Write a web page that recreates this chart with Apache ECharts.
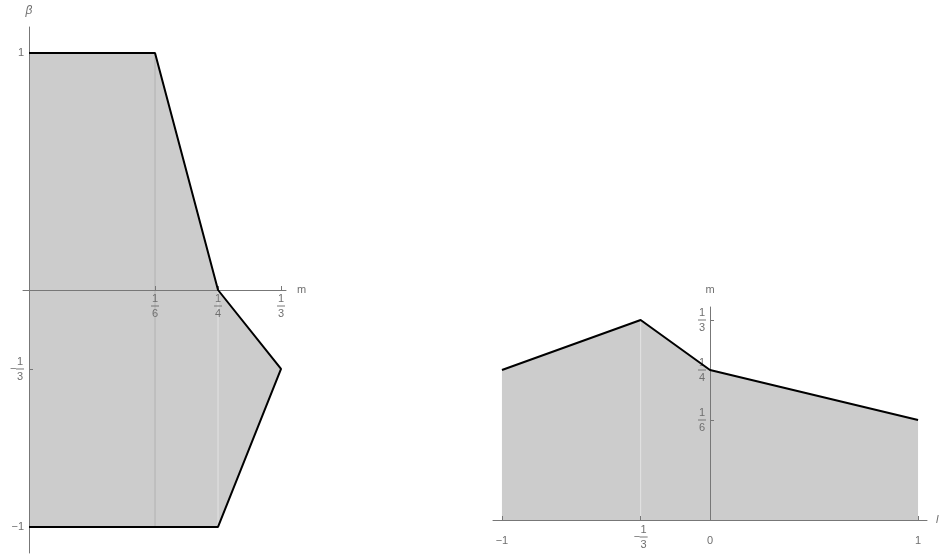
<!DOCTYPE html>
<html><head><meta charset="utf-8">
<script src="https://cdn.jsdelivr.net/npm/echarts@6/dist/echarts.min.js"></script>
<style>html,body{margin:0;padding:0;background:#fff}#c{width:940px;height:556px}</style>
</head><body><div id="c"></div>
<script>
// ---- data ----
const leftM    = [0, 1/6, 1/4, 1/3, 1/4, 0];
const leftBeta = [1, 1, 0, -1/3, -1, -1];
const leftMTicks = [1/6, 1/4, 1/3];
const leftMTickLabels = ['1/6', '1/4', '1/3'];
const leftBetaTicks = [1, -1/3, -1];
const leftBetaTickLabels = ['1', '-1/3', '-1'];
const leftDividerM = [1/6, 1/4];
const leftDividerFrom = [-1, -1];
const leftDividerTo = [1, 0];

const rightL = [-1, -1/3, 0, 1];
const rightM = [1/4, 1/3, 1/4, 1/6];
const rightLTicks = [-1, -1/3, 0, 1];
const rightLTickLabels = ['-1', '-1/3', '0', '1'];
const rightMTicks = [1/3, 1/4, 1/6];
const rightMTickLabels = ['1/3', '1/4', '1/6'];
const rightDividerL = [-1/3];
const rightDividerTo = [1/3];

// ---- layout ----
const W = 940, H = 556;
const G0 = {left: 23, right: 654, top: 27, bottom: 3};
const G1 = {left: 493, right: 13, top: 307, bottom: 36};
const X0 = {min: -0.00794, max: 0.3399}, Y0 = {min: -1.11, max: 1.11};
const X1 = {min: -1.043, max: 1.043},   Y1 = {min: 0, max: 0.355};
// offset (inward) so that each axis sits on the other axis' zero
function zeroOffsetX(g, ax) { const w = W - g.left - g.right; return -w * (0 - ax.min) / (ax.max - ax.min); }
function zeroOffsetY(g, ax) { const h = H - g.top - g.bottom; return -h * (0 - ax.min) / (ax.max - ax.min); }

// ---- helpers ----
const GRAY = '#6f6f6f';
const FONT = '"Liberation Sans", Arial, sans-serif';
function labelFor(vals, labels, simpleStyle) {
  return function (v) {
    let best = 0, d = Infinity;
    vals.forEach((x, i) => { if (Math.abs(x - v) < d) { d = Math.abs(x - v); best = i; } });
    const lbl = labels[best];
    if (lbl.indexOf('/') < 0) return '{' + simpleStyle + '|' + lbl.replace('-', '\u2212') + '}';
    const neg = lbl[0] === '-';
    const parts = lbl.replace('-', '').split('/');
    if (neg) return '{p| }{n|' + parts[0] + '}\n{m|\u2212}{b| }\n{p| }{n|' + parts[1] + '}';
    return '{n|' + parts[0] + '}\n{b| }\n{n|' + parts[1] + '}';
  };
}
const rich = {
  n: {fontSize: 11, lineHeight: 11, width: 8, align: 'center', color: GRAY, fontFamily: FONT},
  b: {width: 8, height: 1, lineHeight: 4, backgroundColor: '#777'},
  m: {fontSize: 11, lineHeight: 4, width: 6, align: 'left', color: GRAY, fontFamily: FONT},
  p: {fontSize: 11, lineHeight: 11, width: 6, color: GRAY},
  s: {fontSize: 11, lineHeight: 33, color: GRAY, fontFamily: FONT},
  t: {fontSize: 11, color: GRAY, fontFamily: FONT}
};
function pairs(xs, ys) { return xs.map((x, i) => [x, ys[i]]); }

const leftPoly = pairs(leftM, leftBeta);
const rightPoly = [[rightL[0], 0]].concat(pairs(rightL, rightM), [[rightL[rightL.length - 1], 0]]);

function polySeries(idx, poly) {
  return {
    type: 'custom', xAxisIndex: idx, yAxisIndex: idx, z: 1, silent: true,
    data: poly, encode: {x: 0, y: 1},
    renderItem: function (params, api) {
      if (params.dataIndex !== 0) return null;
      return {type: 'polygon', shape: {points: poly.map(p => api.coord(p))},
              style: {fill: '#cccccc', stroke: null}};
    }
  };
}
function divider(idx, x, y0, y1, color) {
  return {type: 'line', xAxisIndex: idx, yAxisIndex: idx, z: 2, silent: true, showSymbol: false,
    data: [[x, y0], [x, y1]], lineStyle: {color: color, width: 1}};
}

const series = [
  polySeries(0, leftPoly),
  polySeries(1, rightPoly),
  divider(0, leftDividerM[0], leftDividerFrom[0], leftDividerTo[0], '#b2b2b2'),
  divider(0, leftDividerM[1], leftDividerFrom[1], leftDividerTo[1], '#e4e4e4'),
  divider(1, rightDividerL[0], 0, rightDividerTo[0], '#e4e4e4'),
  {type: 'line', xAxisIndex: 0, yAxisIndex: 0, z: 6, silent: true, showSymbol: false,
   data: leftPoly, lineStyle: {color: '#000', width: 2}},
  {type: 'line', xAxisIndex: 1, yAxisIndex: 1, z: 6, silent: true, showSymbol: false,
   data: pairs(rightL, rightM), lineStyle: {color: '#000', width: 2}}
];

const axLine = {show: true, onZero: false, lineStyle: {color: '#777', width: 1}};
const axTick = (vals) => ({show: true, inside: true, length: 4, customValues: vals, lineStyle: {color: '#777'}});
const nameStyle = {color: GRAY, fontSize: 11, fontFamily: FONT};

const option = {
  animation: false,
  grid: [
    Object.assign({outerBoundsMode: 'none', containLabel: false}, G0),
    Object.assign({outerBoundsMode: 'none', containLabel: false}, G1)
  ],
  xAxis: [
    {type: 'value', gridIndex: 0, min: X0.min, max: X0.max, z: 4, position: 'bottom',
     offset: zeroOffsetY(G0, Y0),
     axisLine: axLine, axisTick: axTick(leftMTicks), splitLine: {show: false},
     axisLabel: {customValues: leftMTicks, margin: 3, formatter: labelFor(leftMTicks, leftMTickLabels, 's'), rich: rich},
     name: 'm', nameLocation: 'end', nameGap: 11, nameTextStyle: nameStyle},
    {type: 'value', gridIndex: 1, min: X1.min, max: X1.max, z: 4, position: 'bottom',
     offset: zeroOffsetY(G1, Y1),
     axisLine: axLine, axisTick: axTick(rightLTicks), splitLine: {show: false},
     axisLabel: {customValues: rightLTicks, margin: 4, formatter: labelFor(rightLTicks, rightLTickLabels, 's'), rich: rich},
     name: 'l', nameLocation: 'end', nameGap: 9,
     nameTextStyle: Object.assign({}, nameStyle, {fontStyle: 'italic', padding: [8, 0, 0, 0]})}
  ],
  yAxis: [
    {type: 'value', gridIndex: 0, min: Y0.min, max: Y0.max, z: 4, position: 'left',
     offset: zeroOffsetX(G0, X0),
     axisLine: axLine, axisTick: axTick(leftBetaTicks), splitLine: {show: false},
     axisLabel: {customValues: leftBetaTicks, margin: 5, formatter: labelFor(leftBetaTicks, leftBetaTickLabels, 't'), rich: rich},
     name: '\u03b2', nameLocation: 'end', nameGap: 10,
     nameTextStyle: Object.assign({}, nameStyle, {fontStyle: 'italic', fontSize: 12})},
    {type: 'value', gridIndex: 1, min: Y1.min, max: Y1.max, z: 4, position: 'left',
     offset: zeroOffsetX(G1, X1),
     axisLine: axLine, axisTick: axTick(rightMTicks), splitLine: {show: false},
     axisLabel: {customValues: rightMTicks, margin: 4, formatter: labelFor(rightMTicks, rightMTickLabels, 't'), rich: rich},
     name: 'm', nameLocation: 'end', nameGap: 12, nameTextStyle: nameStyle}
  ],
  series: series
};
const chart = echarts.init(document.getElementById('c'), null, {renderer: 'canvas'});
chart.setOption(option);
</script>
</body></html>
